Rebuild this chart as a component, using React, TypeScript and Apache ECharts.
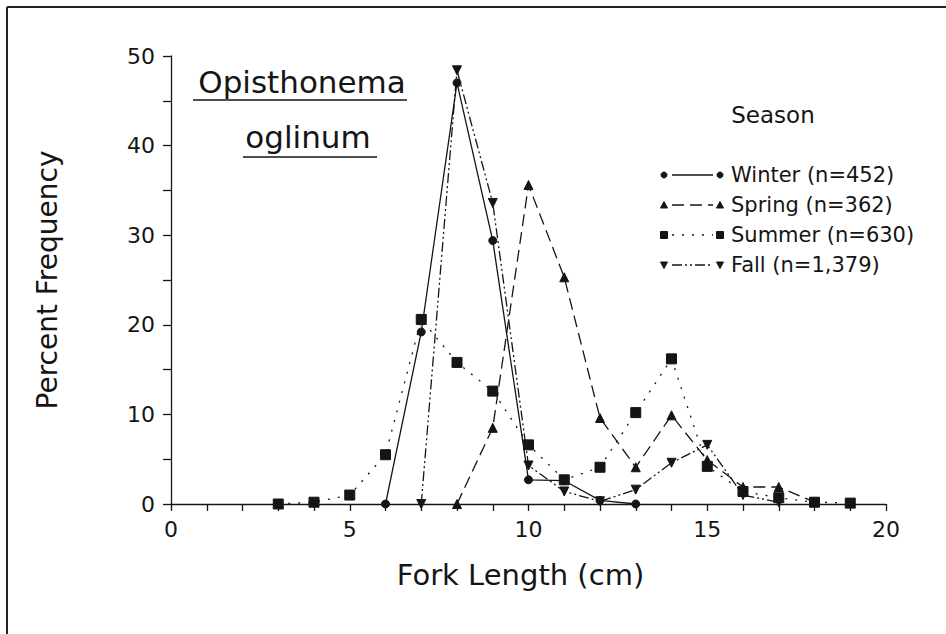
import React, { useEffect, useRef } from "react";
import * as echarts from "echarts";

// Fork length (cm) vs percent frequency, by season
const winter: number[][] = [[6, 0], [7, 19.2], [8, 47], [9, 29.4], [10, 2.7], [11, 2.6], [12, 0.4], [13, 0]];
const spring: number[][] = [[8, 0], [9, 8.5], [10, 35.6], [11, 25.3], [12, 9.6], [13, 4.1], [14, 9.9], [15, 4.9], [16, 1.9], [17, 1.9], [18, 0.2]];
const summer: number[][] = [[3, 0], [4, 0.2], [5, 1], [6, 5.5], [7, 20.6], [8, 15.8], [9, 12.6], [10, 6.6], [11, 2.7], [12, 4.1], [13, 10.2], [14, 16.2], [15, 4.2], [16, 1.4], [17, 0.7], [18, 0.2], [19, 0.1]];
const fall: number[][] = [[7, 0], [8, 48.4], [9, 33.6], [10, 4.3], [11, 1.4], [12, 0.3], [13, 1.6], [14, 4.6], [15, 6.6], [16, 1.0], [17, 0.2]];

const seriesNames = ["Winter (n=452)", "Spring (n=362)", "Summer (n=630)", "Fall (n=1,379)"];
const xTickLabels = ["0", "5", "10", "15", "20"];
const yTickLabels = ["0", "10", "20", "30", "40", "50"];
const titleLines = ["Opisthonema", "oglinum"];
const legendTitle = "Season";
const xAxisTitle = "Fork Length (cm)";
const yAxisTitle = "Percent Frequency";

const INK = "#151515";
const FONT = "DejaVu Sans";

const styles = [
  { symbol: "circle", size: 8, rotate: 0, dash: "solid" as any },
  { symbol: "triangle", size: 9, rotate: 0, dash: [12, 6] as any },
  { symbol: "rect", size: 10, rotate: 0, dash: [2, 8] as any },
  { symbol: "triangle", size: 9, rotate: 180, dash: [10, 3, 2, 3, 2, 3] as any },
];

function legendMarker(kind: number, x: number, y: number) {
  const style = { fill: INK, stroke: INK };
  if (kind === 0) return { type: "circle", shape: { cx: x, cy: y, r: 3 }, style };
  if (kind === 1) return { type: "polygon", shape: { points: [[x - 3.5, y + 3], [x + 3.5, y + 3], [x, y - 3.5]] }, style };
  if (kind === 2) return { type: "rect", shape: { x: x - 3.5, y: y - 3.5, width: 7, height: 7 }, style };
  return { type: "polygon", shape: { points: [[x - 3.5, y - 3], [x + 3.5, y - 3], [x, y + 3.5]] }, style };
}

export default function App() {
  const ref = useRef<HTMLDivElement>(null);
  useEffect(() => {
    document.body.style.margin = "0";
    const chart = echarts.init(ref.current!, null, { renderer: "svg" });
    const allData = [winter, spring, summer, fall];

    const legendGraphics: any[] = [];
    const rowY = [175, 205, 235, 265];
    seriesNames.forEach((name, i) => {
      const y = rowY[i];
      legendGraphics.push({
        type: "line",
        shape: { x1: 672, y1: y, x2: 713, y2: y },
        style: { stroke: INK, lineWidth: 1.3, lineDash: styles[i].dash === "solid" ? null : styles[i].dash },
      });
      legendGraphics.push(legendMarker(i, 664, y));
      legendGraphics.push(legendMarker(i, 720, y));
      legendGraphics.push({
        type: "text",
        x: 731,
        y,
        style: { text: name, fill: INK, font: `21px "${FONT}"`, textAlign: "left", textVerticalAlign: "middle" },
      });
    });

    chart.setOption({
      animation: false,
      backgroundColor: "#ffffff",
      grid: { left: 171, right: 60, top: 56, bottom: 130 },
      xAxis: {
        type: "value",
        min: 0,
        max: 20,
        interval: 1,
        name: xAxisTitle,
        nameLocation: "middle",
        nameGap: 56,
        nameTextStyle: { color: INK, fontSize: 29, fontFamily: FONT, padding: [0, 16, 0, 0] },
        axisLine: { show: true, lineStyle: { color: INK, width: 1.3 } },
        axisTick: { show: true, length: 7, lineStyle: { color: INK, width: 1.3 } },
        splitLine: { show: false },
        axisLabel: {
          color: INK,
          fontSize: 22,
          fontFamily: FONT,
          margin: 14,
          formatter: (v: number) => (xTickLabels.includes(String(v)) ? String(v) : ""),
        },
      },
      yAxis: {
        type: "value",
        min: 0,
        max: 50,
        interval: 5,
        name: yAxisTitle,
        nameLocation: "middle",
        nameGap: 110,
        nameTextStyle: { color: INK, fontSize: 28, fontFamily: FONT },
        axisLine: { show: true, lineStyle: { color: INK, width: 1.3 } },
        axisTick: { show: true, length: 8, lineStyle: { color: INK, width: 1.3 } },
        splitLine: { show: false },
        axisLabel: {
          color: INK,
          fontSize: 22,
          fontFamily: FONT,
          margin: 16,
          formatter: (v: number) => (yTickLabels.includes(String(v)) ? String(v) : ""),
        },
      },
      series: allData.map((d, i) => ({
        type: "line",
        name: seriesNames[i],
        data: d,
        symbol: styles[i].symbol,
        symbolSize: styles[i].size,
        symbolRotate: styles[i].rotate,
        showSymbol: true,
        lineStyle: { color: INK, width: 1.3, type: styles[i].dash },
        itemStyle: { color: INK, borderColor: INK },
        z: 2 + i,
      })),
      graphic: [
        { type: "line", shape: { x1: 7, y1: 7, x2: 946, y2: 7 }, style: { stroke: "#222", lineWidth: 2 } },
        { type: "line", shape: { x1: 7, y1: 7, x2: 7, y2: 634 }, style: { stroke: "#222", lineWidth: 2 } },
        {
          type: "text", x: 302, y: 82,
          style: { text: titleLines[0], fill: INK, font: `31px "${FONT}"`, textAlign: "center", textVerticalAlign: "middle" },
        },
        { type: "line", shape: { x1: 193, y1: 100, x2: 407, y2: 100 }, style: { stroke: INK, lineWidth: 1.5 } },
        {
          type: "text", x: 308, y: 137,
          style: { text: titleLines[1], fill: INK, font: `31px "${FONT}"`, textAlign: "center", textVerticalAlign: "middle" },
        },
        { type: "line", shape: { x1: 243, y1: 157, x2: 377, y2: 157 }, style: { stroke: INK, lineWidth: 1.5 } },
        {
          type: "text", x: 773, y: 115,
          style: { text: legendTitle, fill: INK, font: `23px "${FONT}"`, textAlign: "center", textVerticalAlign: "middle" },
        },
        ...legendGraphics,
      ],
    });
    return () => chart.dispose();
  }, []);
  return <div ref={ref} style={{ width: 946, height: 634 }} />;
}
